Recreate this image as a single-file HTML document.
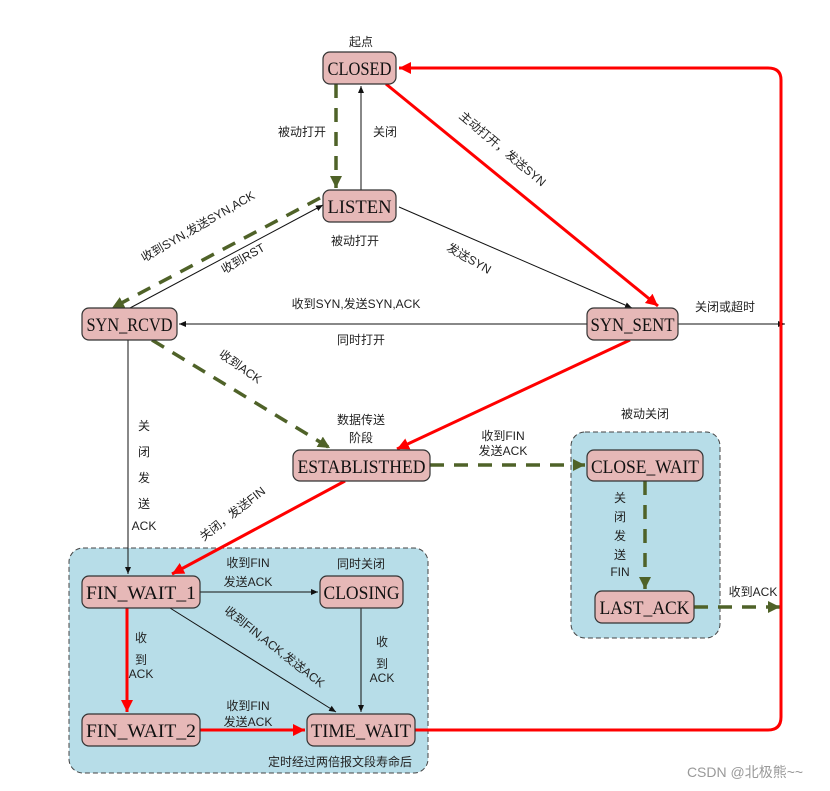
<!DOCTYPE html>
<html><head><meta charset="utf-8"><style>
body{margin:0;background:#fff}
svg{display:block}
.n{fill:#e6b8b7;stroke:#333;stroke-width:1.2}
.t{font-family:"Liberation Serif","Noto Serif CJK SC",serif;font-size:19px;fill:#111}
.l{font-family:"Liberation Sans","Noto Sans CJK SC",sans-serif;font-size:12px;fill:#222}
.k{stroke:#111;stroke-width:1;fill:none}
.r{stroke:#f00;stroke-width:3;fill:none}
.g{stroke:#4f6228;stroke-width:3.5;fill:none;stroke-dasharray:14,10}
</style></head><body>
<svg width="830" height="791" viewBox="0 0 830 791" xmlns="http://www.w3.org/2000/svg">
<defs>
<marker id="ak" markerWidth="8" markerHeight="8" refX="7" refY="4" orient="auto" markerUnits="userSpaceOnUse"><path d="M0,1 L7,4 L0,7z" fill="#111"/></marker>
<marker id="ar" markerWidth="14" markerHeight="14" refX="12" refY="7" orient="auto" markerUnits="userSpaceOnUse"><path d="M0,1 L12,7 L0,13z" fill="#f00"/></marker>
<marker id="ag" markerWidth="14" markerHeight="14" refX="12" refY="7" orient="auto" markerUnits="userSpaceOnUse"><path d="M0,1 L12,7 L0,13z" fill="#4f6228"/></marker>
</defs>
<rect x="69" y="548" width="359" height="225" rx="14" fill="#b7dde8" stroke="#444" stroke-dasharray="5,3"/>
<rect x="571" y="432" width="149" height="206" rx="14" fill="#b7dde8" stroke="#444" stroke-dasharray="5,3"/>
<line class="k" x1="361" y1="190" x2="361" y2="86" marker-end="url(#ak)"/>
<line class="g" x1="336" y1="84" x2="336" y2="188" marker-end="url(#ag)"/>
<line class="r" x1="386" y1="84" x2="658" y2="306" marker-end="url(#ar)"/>
<line class="k" x1="130" y1="308" x2="323" y2="205" marker-end="url(#ak)"/>
<line class="g" x1="320" y1="198" x2="112" y2="308" marker-end="url(#ag)"/>
<line class="k" x1="399" y1="207" x2="632" y2="308" marker-end="url(#ak)"/>
<line class="k" x1="587" y1="324" x2="179" y2="324" marker-end="url(#ak)"/>
<line class="k" x1="678" y1="324" x2="785" y2="324" marker-end="url(#ak)"/>
<line class="g" x1="152" y1="340" x2="330" y2="448" marker-end="url(#ag)"/>
<line class="r" x1="630" y1="340" x2="397" y2="449" marker-end="url(#ar)"/>
<line class="g" x1="430" y1="465" x2="585" y2="465" marker-end="url(#ag)"/>
<line class="g" x1="645" y1="481" x2="645" y2="589" marker-end="url(#ag)"/>
<line class="g" x1="694" y1="607" x2="780" y2="607" marker-end="url(#ag)"/>
<line class="k" x1="128" y1="340" x2="128" y2="574" marker-end="url(#ak)"/>
<line class="r" x1="345" y1="481" x2="172" y2="574" marker-end="url(#ar)"/>
<line class="k" x1="200" y1="592" x2="318" y2="592" marker-end="url(#ak)"/>
<line class="r" x1="127" y1="608" x2="127" y2="712" marker-end="url(#ar)"/>
<line class="k" x1="170" y1="608" x2="336" y2="712" marker-end="url(#ak)"/>
<line class="k" x1="361" y1="608" x2="361" y2="712" marker-end="url(#ak)"/>
<line class="r" x1="200" y1="730" x2="305" y2="730" marker-end="url(#ar)"/>
<path class="r" d="M415,730 L768,730 Q781,730 781,717 L781,80 Q781,68 768,68 L399,68" marker-end="url(#ar)"/>
<rect class="n" x="323" y="52" width="73" height="32" rx="7"/><text class="t" x="359.5" y="75" text-anchor="middle" textLength="64" lengthAdjust="spacingAndGlyphs">CLOSED</text>
<rect class="n" x="323" y="190" width="73" height="32" rx="7"/><text class="t" x="359.5" y="213" text-anchor="middle" textLength="64" lengthAdjust="spacingAndGlyphs">LISTEN</text>
<rect class="n" x="82" y="308" width="95" height="32" rx="7"/><text class="t" x="129.5" y="331" text-anchor="middle" textLength="86" lengthAdjust="spacingAndGlyphs">SYN_RCVD</text>
<rect class="n" x="587" y="308" width="91" height="32" rx="7"/><text class="t" x="632.5" y="331" text-anchor="middle" textLength="84" lengthAdjust="spacingAndGlyphs">SYN_SENT</text>
<rect class="n" x="293" y="450" width="137" height="31" rx="7"/><text class="t" x="361.5" y="473" text-anchor="middle" textLength="128" lengthAdjust="spacingAndGlyphs">ESTABLISTHED</text>
<rect class="n" x="587" y="450" width="116" height="31" rx="7"/><text class="t" x="645" y="473" text-anchor="middle" textLength="108" lengthAdjust="spacingAndGlyphs">CLOSE_WAIT</text>
<rect class="n" x="595" y="591" width="99" height="32" rx="7"/><text class="t" x="644.5" y="614" text-anchor="middle" textLength="90" lengthAdjust="spacingAndGlyphs">LAST_ACK</text>
<rect class="n" x="82" y="576" width="118" height="32" rx="7"/><text class="t" x="141" y="599" text-anchor="middle" textLength="110" lengthAdjust="spacingAndGlyphs">FIN_WAIT_1</text>
<rect class="n" x="320" y="576" width="83" height="32" rx="7"/><text class="t" x="361.5" y="599" text-anchor="middle" textLength="76" lengthAdjust="spacingAndGlyphs">CLOSING</text>
<rect class="n" x="82" y="714" width="118" height="32" rx="7"/><text class="t" x="141" y="737" text-anchor="middle" textLength="110" lengthAdjust="spacingAndGlyphs">FIN_WAIT_2</text>
<rect class="n" x="307" y="714" width="108" height="32" rx="7"/><text class="t" x="361" y="737" text-anchor="middle" textLength="100" lengthAdjust="spacingAndGlyphs">TIME_WAIT</text>
<text class="l" x="361" y="46" text-anchor="middle">起点</text>
<text class="l" x="302" y="136" text-anchor="middle">被动打开</text>
<text class="l" x="385" y="136" text-anchor="middle">关闭</text>
<text class="l" x="355" y="245" text-anchor="middle">被动打开</text>
<text class="l" x="0" y="0" text-anchor="middle" transform="translate(500,152) rotate(40)">主动打开，发送SYN</text>
<text class="l" x="0" y="0" text-anchor="middle" transform="translate(200,230) rotate(-30)">收到SYN,发送SYN,ACK</text>
<text class="l" x="0" y="0" text-anchor="middle" transform="translate(245,262) rotate(-30)">收到RST</text>
<text class="l" x="0" y="0" text-anchor="middle" transform="translate(467,262) rotate(30)">发送SYN</text>
<text class="l" x="356" y="308" text-anchor="middle">收到SYN,发送SYN,ACK</text>
<text class="l" x="361" y="344" text-anchor="middle">同时打开</text>
<text class="l" x="725" y="311" text-anchor="middle">关闭或超时</text>
<text class="l" x="0" y="0" text-anchor="middle" transform="translate(238,370) rotate(35)">收到ACK</text>
<text class="l" x="361" y="424" text-anchor="middle">数据传送</text>
<text class="l" x="361" y="442" text-anchor="middle">阶段</text>
<text class="l" x="503" y="440" text-anchor="middle">收到FIN</text>
<text class="l" x="503" y="455" text-anchor="middle">发送ACK</text>
<text class="l" x="645" y="418" text-anchor="middle">被动关闭</text>
<text class="l" x="144" y="430" text-anchor="middle">关</text>
<text class="l" x="144" y="456" text-anchor="middle">闭</text>
<text class="l" x="144" y="482" text-anchor="middle">发</text>
<text class="l" x="144" y="508" text-anchor="middle">送</text>
<text class="l" x="144" y="530" text-anchor="middle">ACK</text>
<text class="l" x="620" y="502" text-anchor="middle">关</text>
<text class="l" x="620" y="521" text-anchor="middle">闭</text>
<text class="l" x="620" y="540" text-anchor="middle">发</text>
<text class="l" x="620" y="559" text-anchor="middle">送</text>
<text class="l" x="620" y="576" text-anchor="middle">FIN</text>
<text class="l" x="753" y="596" text-anchor="middle">收到ACK</text>
<text class="l" x="0" y="0" text-anchor="middle" transform="translate(235,517) rotate(-38)">关闭，发送FIN</text>
<text class="l" x="248" y="567" text-anchor="middle">收到FIN</text>
<text class="l" x="248" y="586" text-anchor="middle">发送ACK</text>
<text class="l" x="361" y="568" text-anchor="middle">同时关闭</text>
<text class="l" x="0" y="0" text-anchor="middle" transform="translate(272,650) rotate(38)">收到FIN,ACK,发送ACK</text>
<text class="l" x="141" y="642" text-anchor="middle">收</text>
<text class="l" x="141" y="664" text-anchor="middle">到</text>
<text class="l" x="141" y="678" text-anchor="middle">ACK</text>
<text class="l" x="382" y="646" text-anchor="middle">收</text>
<text class="l" x="382" y="668" text-anchor="middle">到</text>
<text class="l" x="382" y="682" text-anchor="middle">ACK</text>
<text class="l" x="248" y="710" text-anchor="middle">收到FIN</text>
<text class="l" x="248" y="726" text-anchor="middle">发送ACK</text>
<text class="l" x="340" y="766" text-anchor="middle">定时经过两倍报文段寿命后</text>
<text x="745" y="777" text-anchor="middle" style="font-family:'Liberation Sans','Noto Sans CJK SC',sans-serif;font-size:14px;fill:#999">CSDN @北极熊~~</text>
</svg>
</body></html>
